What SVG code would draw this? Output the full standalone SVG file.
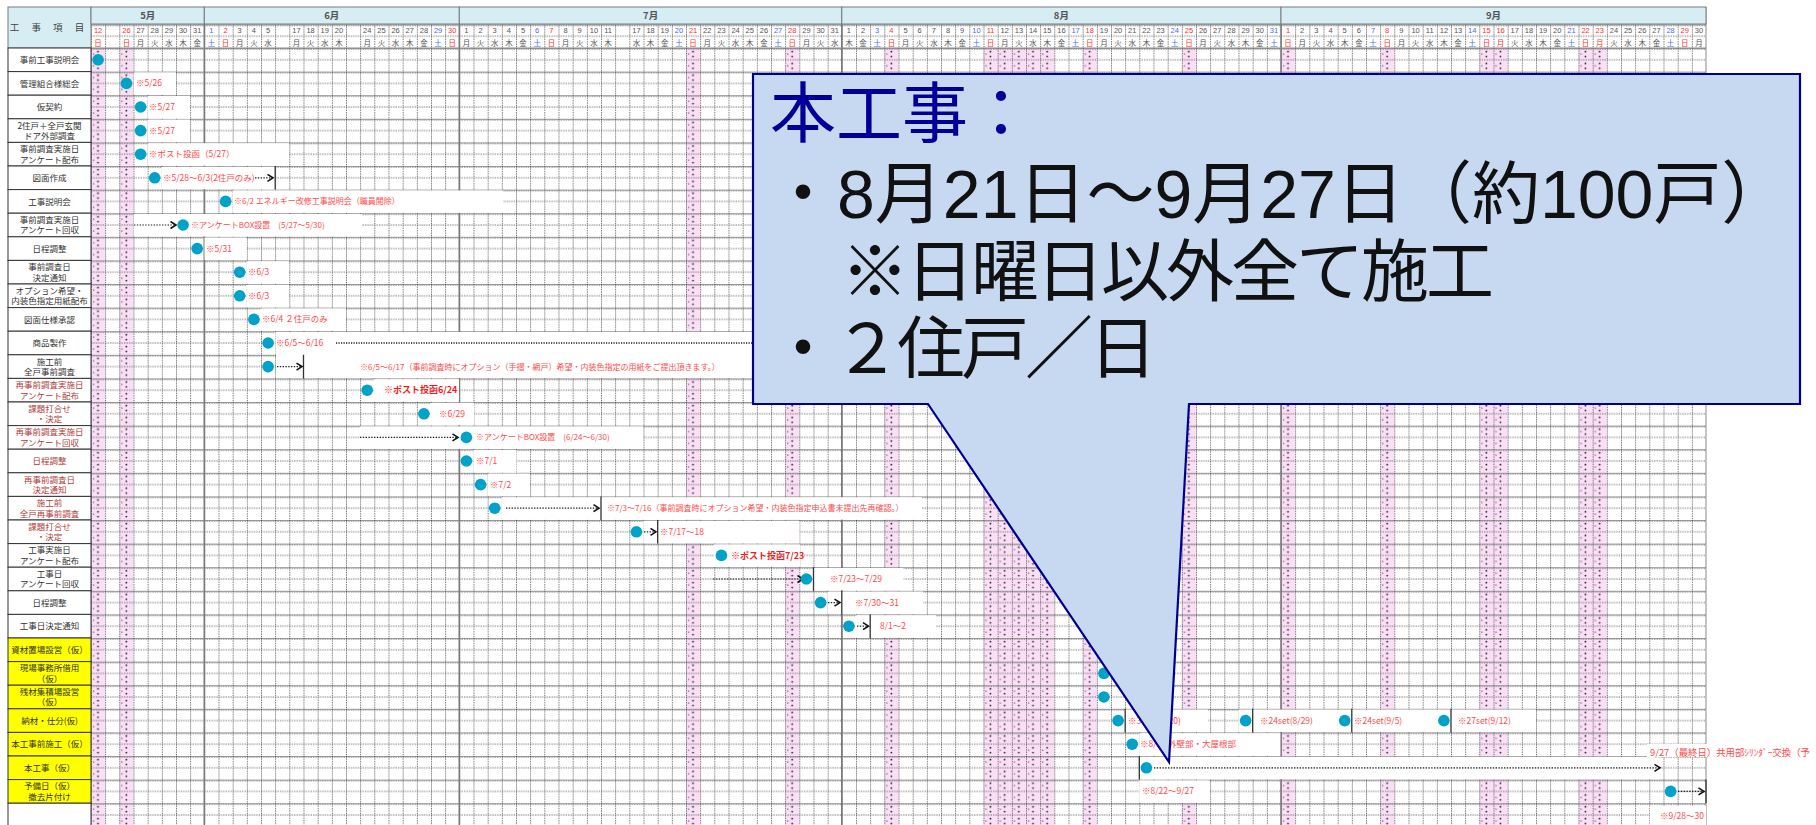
<svg xmlns="http://www.w3.org/2000/svg" width="1816" height="825" viewBox="0 0 1816 825">
<defs>
<style>
text{font-family:"Noto Sans CJK JP","Noto Sans",sans-serif}
.lbl{font-size:8.5px;fill:#333;text-anchor:middle}
.lr{fill:#b23a3a}
.ann{font-size:8.5px;fill:#ff4a4a}
.annb{font-size:9px;fill:#ee1c1c;font-weight:bold}
.dn{font-family:"Liberation Sans",Arial,sans-serif;font-size:7.5px;fill:#555;text-anchor:middle}
.wd{font-size:7.5px;fill:#555;text-anchor:middle}
.red{fill:#ff3030}
.blue{fill:#4a6ee8}
.dot{fill:#00a2c8}
.arr{stroke:#222;stroke-width:1.2;stroke-dasharray:1.4 1.4;fill:none;marker-end:url(#ah)}
.vl{stroke:#333;stroke-width:1.3}
.wb{fill:#fff}
.cell{fill:#fff;stroke:#333;stroke-width:1}
.ycell{fill:#ffff00;stroke:#333;stroke-width:1}
.mon{fill:#d6eef3;stroke:#7a7a7a;stroke-width:1}
.mt{font-size:9.5px;fill:#555;font-weight:bold;text-anchor:middle}
.pk{fill:url(#pk)}
.ml{stroke:#7a7a7a;stroke-width:1.6}
.co{font-family:"Liberation Sans","Noto Sans CJK JP",sans-serif;font-size:68px;fill:#111}
</style>
<pattern id="grid" patternUnits="userSpaceOnUse" x="91" y="48" width="14.1667" height="23.6">
<path d="M0 0.5H14.1667" stroke="#9a9a9a" stroke-width="1"/>
<path d="M0 1.3H14.1667" stroke="#555" stroke-width="0.7" stroke-dasharray="1.2 1.2"/>
<path d="M0 11.8H14.1667" stroke="#444" stroke-width="0.8" stroke-dasharray="1.2 1.2"/>
<path d="M0.5 0V23.6" stroke="#444" stroke-width="0.8" stroke-dasharray="1.3 1.1"/>
</pattern>
<pattern id="pk" patternUnits="userSpaceOnUse" x="91" y="48" width="14.1667" height="11.8">
<rect width="14.1667" height="11.8" fill="#fbdff6"/>
<circle cx="7" cy="3.6" r="0.9" fill="#222"/>
<circle cx="7" cy="8.4" r="0.9" fill="#222"/>
<circle cx="2.6" cy="6" r="0.7" fill="#444"/>
</pattern>
<marker id="ah" markerWidth="9" markerHeight="9" refX="7" refY="4.5" orient="auto" markerUnits="userSpaceOnUse">
<path d="M1.5 1L7 4.5L1.5 8" fill="none" stroke="#111" stroke-width="1.6"/>
</marker>
</defs>

<rect width="1816" height="825" fill="#fff"/>

<g id="pink-columns">
<rect class="pk" x="91" y="48" width="14.17" height="777"/>
<rect class="pk" x="119.3" y="48" width="14.17" height="777"/>
<rect class="pk" x="686" y="48" width="14.17" height="777"/>
<rect class="pk" x="785.2" y="48" width="14.17" height="777"/>
<rect class="pk" x="884.3" y="48" width="14.17" height="777"/>
<rect class="pk" x="983.5" y="48" width="70.83" height="777"/>
<rect class="pk" x="1082.7" y="48" width="14.17" height="777"/>
<rect class="pk" x="1181.8" y="48" width="14.17" height="777"/>
<rect class="pk" x="1281" y="48" width="14.17" height="777"/>
<rect class="pk" x="1380.2" y="48" width="14.17" height="777"/>
<rect class="pk" x="1479.3" y="48" width="28.33" height="777"/>
<rect class="pk" x="1578.5" y="48" width="28.33" height="777"/>
</g>

<g id="grid-lines">
<rect x="91" y="24.4" width="1615" height="801" fill="url(#grid)"/>
<path class="ml" d="M204.3 7V825M459.3 7V825M841.8 7V825M1281 7V825"/>
<path d="M1706 7V825" stroke="#888" stroke-width="1"/>
<path d="M91 24H1706M91 48H1706" stroke="#8a8a8a" stroke-width="1"/>
</g>

<g id="white-boxes">
<rect class="wb" x="134" y="72.4" width="42" height="22.4"/>
<rect class="wb" x="148" y="96" width="42" height="22.4"/>
<rect class="wb" x="148" y="119.6" width="42" height="22.4"/>
<rect class="wb" x="148" y="143.2" width="141" height="22.4"/>
<rect class="wb" x="162" y="166.8" width="113" height="22.4"/>
<rect class="wb" x="233" y="190.4" width="270" height="22.4"/>
<rect class="wb" x="134" y="214" width="228" height="22.4"/>
<rect class="wb" x="204.5" y="237.6" width="42" height="22.4"/>
<rect class="wb" x="247" y="261.2" width="42" height="22.4"/>
<rect class="wb" x="247" y="284.8" width="42" height="22.4"/>
<rect class="wb" x="261" y="308.4" width="85" height="22.4"/>
<rect class="wb" x="275.5" y="332" width="478" height="22.4"/>
<rect class="wb" x="276" y="354" width="477" height="24"/>
<rect class="wb" x="374" y="379.2" width="85" height="22.4"/>
<rect class="wb" x="431" y="402.8" width="43" height="22.4"/>
<rect class="wb" x="360" y="426.4" width="283" height="22.4"/>
<rect class="wb" x="473.5" y="450" width="43" height="22.4"/>
<rect class="wb" x="488" y="473.6" width="42" height="22.4"/>
<rect class="wb" x="502" y="497.2" width="420" height="22.4"/>
<rect class="wb" x="643.5" y="520.8" width="156" height="22.4"/>
<rect class="wb" x="714" y="544.4" width="86" height="22.4"/>
<rect class="wb" x="813.5" y="568" width="90" height="22.4"/>
<rect class="wb" x="828" y="591.6" width="95" height="22.4"/>
<rect class="wb" x="856" y="615.2" width="80" height="22.4"/>
<rect class="wb" x="1125.2" y="709.6" width="83" height="22.4"/>
<rect class="wb" x="1238.5" y="709.6" width="99" height="22.4"/>
<rect class="wb" x="1337.7" y="709.6" width="99" height="22.4"/>
<rect class="wb" x="1436.8" y="709.6" width="99" height="22.4"/>
<rect class="wb" x="1139.3" y="733.2" width="141" height="22.4"/>
<rect class="wb" x="1139.3" y="756.8" width="520" height="22.4"/>
<rect class="wb" x="1647" y="744" width="169" height="13"/>
<rect class="wb" x="1139.3" y="780.4" width="70" height="22.4"/>
<rect class="wb" x="1650" y="806" width="56" height="19"/>
</g>

<g id="header">
<rect class="mon" x="8" y="7" width="83" height="41"/>
<text x="49.5" y="31" style="font-size:9.5px;fill:#444;text-anchor:middle;letter-spacing:5px">工 事 項 目</text>
<rect class="mon" x="91" y="7" width="113.3" height="17"/>
<rect class="mon" x="204.3" y="7" width="255" height="17"/>
<rect class="mon" x="459.3" y="7" width="382.5" height="17"/>
<rect class="mon" x="841.8" y="7" width="439.2" height="17"/>
<rect class="mon" x="1281" y="7" width="425" height="17"/>
<text class="mt" x="147.7" y="19.3">5月</text>
<text class="mt" x="331.8" y="19.3">6月</text>
<text class="mt" x="650.6" y="19.3">7月</text>
<text class="mt" x="1061.4" y="19.3">8月</text>
<text class="mt" x="1493.5" y="19.3">9月</text>
<text class="dn" y="32.8"><tspan class="red" x="98.1">12</tspan><tspan class="red" x="126.4">26</tspan><tspan x="140.6">27</tspan><tspan x="154.7">28</tspan><tspan x="168.9">29</tspan><tspan x="183.1">30</tspan><tspan x="197.2">31</tspan><tspan class="blue" x="211.4">1</tspan><tspan class="red" x="225.6">2</tspan><tspan x="239.7">3</tspan><tspan x="253.9">4</tspan><tspan x="268.1">5</tspan><tspan x="296.4">17</tspan><tspan x="310.6">18</tspan><tspan x="324.7">19</tspan><tspan x="338.9">20</tspan><tspan x="367.2">24</tspan><tspan x="381.4">25</tspan><tspan x="395.6">26</tspan><tspan x="409.7">27</tspan><tspan x="423.9">28</tspan><tspan class="blue" x="438.1">29</tspan><tspan class="red" x="452.2">30</tspan><tspan x="466.4">1</tspan><tspan x="480.6">2</tspan><tspan x="494.7">3</tspan><tspan x="508.9">4</tspan><tspan x="523.1">5</tspan><tspan class="blue" x="537.2">6</tspan><tspan class="red" x="551.4">7</tspan><tspan x="565.6">8</tspan><tspan x="579.7">9</tspan><tspan x="593.9">10</tspan><tspan x="608.1">11</tspan><tspan x="636.4">17</tspan><tspan x="650.6">18</tspan><tspan x="664.7">19</tspan><tspan class="blue" x="678.9">20</tspan><tspan class="red" x="693.1">21</tspan><tspan x="707.2">22</tspan><tspan x="721.4">23</tspan><tspan x="735.6">24</tspan><tspan x="749.7">25</tspan><tspan x="763.9">26</tspan><tspan class="blue" x="778.1">27</tspan><tspan class="red" x="792.2">28</tspan><tspan x="806.4">29</tspan><tspan x="820.6">30</tspan><tspan x="834.7">31</tspan><tspan x="848.9">1</tspan><tspan x="863.1">2</tspan><tspan class="blue" x="877.2">3</tspan><tspan class="red" x="891.4">4</tspan><tspan x="905.6">5</tspan><tspan x="919.7">6</tspan><tspan x="933.9">7</tspan><tspan x="948.1">8</tspan><tspan x="962.2">9</tspan><tspan class="blue" x="976.4">10</tspan><tspan class="red" x="990.6">11</tspan><tspan x="1004.7">12</tspan><tspan x="1018.9">13</tspan><tspan x="1033.1">14</tspan><tspan x="1047.2">15</tspan><tspan x="1061.4">16</tspan><tspan class="blue" x="1075.6">17</tspan><tspan class="red" x="1089.7">18</tspan><tspan x="1103.9">19</tspan><tspan x="1118.1">20</tspan><tspan x="1132.2">21</tspan><tspan x="1146.4">22</tspan><tspan x="1160.6">23</tspan><tspan class="blue" x="1174.7">24</tspan><tspan class="red" x="1188.9">25</tspan><tspan x="1203.1">26</tspan><tspan x="1217.2">27</tspan><tspan x="1231.4">28</tspan><tspan x="1245.6">29</tspan><tspan x="1259.7">30</tspan><tspan class="blue" x="1273.9">31</tspan><tspan class="red" x="1288.1">1</tspan><tspan x="1302.2">2</tspan><tspan x="1316.4">3</tspan><tspan x="1330.6">4</tspan><tspan x="1344.7">5</tspan><tspan x="1358.9">6</tspan><tspan class="blue" x="1373.1">7</tspan><tspan class="red" x="1387.2">8</tspan><tspan x="1401.4">9</tspan><tspan x="1415.6">10</tspan><tspan x="1429.7">11</tspan><tspan x="1443.9">12</tspan><tspan x="1458.1">13</tspan><tspan class="blue" x="1472.2">14</tspan><tspan class="red" x="1486.4">15</tspan><tspan class="red" x="1500.6">16</tspan><tspan x="1514.7">17</tspan><tspan x="1528.9">18</tspan><tspan x="1543.1">19</tspan><tspan x="1557.2">20</tspan><tspan class="blue" x="1571.4">21</tspan><tspan class="red" x="1585.6">22</tspan><tspan class="red" x="1599.7">23</tspan><tspan x="1613.9">24</tspan><tspan x="1628.1">25</tspan><tspan x="1642.2">26</tspan><tspan x="1656.4">27</tspan><tspan class="blue" x="1670.6">28</tspan><tspan class="red" x="1684.7">29</tspan><tspan x="1698.9">30</tspan></text>
<text class="wd" y="45.6"><tspan class="red" x="98.1">日</tspan><tspan class="red" x="126.4">日</tspan><tspan x="140.6 154.7 168.9 183.1 197.2">月火水木金</tspan><tspan class="blue" x="211.4">土</tspan><tspan class="red" x="225.6">日</tspan><tspan x="239.7 253.9 268.1">月火水</tspan><tspan x="296.4 310.6 324.7 338.9">月火水木</tspan><tspan x="367.2 381.4 395.6 409.7 423.9">月火水木金</tspan><tspan class="blue" x="438.1">土</tspan><tspan class="red" x="452.2">日</tspan><tspan x="466.4 480.6 494.7 508.9 523.1">月火水木金</tspan><tspan class="blue" x="537.2">土</tspan><tspan class="red" x="551.4">日</tspan><tspan x="565.6 579.7 593.9 608.1">月火水木</tspan><tspan x="636.4 650.6 664.7">水木金</tspan><tspan class="blue" x="678.9">土</tspan><tspan class="red" x="693.1">日</tspan><tspan x="707.2 721.4 735.6 749.7 763.9">月火水木金</tspan><tspan class="blue" x="778.1">土</tspan><tspan class="red" x="792.2">日</tspan><tspan x="806.4 820.6 834.7 848.9 863.1">月火水木金</tspan><tspan class="blue" x="877.2">土</tspan><tspan class="red" x="891.4">日</tspan><tspan x="905.6 919.7 933.9 948.1 962.2">月火水木金</tspan><tspan class="blue" x="976.4">土</tspan><tspan class="red" x="990.6">日</tspan><tspan x="1004.7 1018.9 1033.1 1047.2 1061.4">月火水木金</tspan><tspan class="blue" x="1075.6">土</tspan><tspan class="red" x="1089.7">日</tspan><tspan x="1103.9 1118.1 1132.2 1146.4 1160.6">月火水木金</tspan><tspan class="blue" x="1174.7">土</tspan><tspan class="red" x="1188.9">日</tspan><tspan x="1203.1 1217.2 1231.4 1245.6 1259.7">月火水木金</tspan><tspan class="blue" x="1273.9">土</tspan><tspan class="red" x="1288.1">日</tspan><tspan x="1302.2 1316.4 1330.6 1344.7 1358.9">月火水木金</tspan><tspan class="blue" x="1373.1">土</tspan><tspan class="red" x="1387.2">日</tspan><tspan x="1401.4 1415.6 1429.7 1443.9 1458.1">月火水木金</tspan><tspan class="blue" x="1472.2">土</tspan><tspan class="red" x="1486.4">日</tspan><tspan class="red" x="1500.6">月</tspan><tspan x="1514.7 1528.9 1543.1 1557.2">火水木金</tspan><tspan class="blue" x="1571.4">土</tspan><tspan class="red" x="1585.6">日</tspan><tspan class="red" x="1599.7">月</tspan><tspan x="1613.9 1628.1 1642.2 1656.4">火水木金</tspan><tspan class="blue" x="1670.6">土</tspan><tspan class="red" x="1684.7">日</tspan><tspan x="1698.9">月</tspan></text>
</g>

<g id="connectors">
<path class="vl" d="M275.2 166V189.6M303.5 354.8V378.4M601 496.4V520M657.7 520V543.6M813.5 567.2V590.8M841.8 590.8V614.4M870.2 614.4V638M1125.2 708.8V732.4M1252.7 708.8V732.4M1351.8 708.8V732.4M1451 708.8V732.4M1139.3 756V779.6M1706 779.6V803.2"/>
<path class="arr" d="M255 177.8H273"/>
<path class="arr" d="M134 225H176"/>
<path d="M336 343H753" stroke="#555" stroke-width="2.2" stroke-dasharray="1.2 1.3" fill="none"/>
<path class="arr" d="M277 366.6H302"/>
<path class="arr" d="M360 437.4H458"/>
<path class="arr" d="M506 508.2H599"/>
<path class="arr" d="M644 531.8H656"/>
<path class="arr" d="M713 579H803"/>
<path class="arr" d="M828 602.6H840"/>
<path class="arr" d="M857 626.2H868.5"/>
<path class="arr" d="M1154 767.8H1660" style="stroke:#555;stroke-width:1.8"/>
<path class="arr" d="M1678 791.4H1704"/>
</g>

<g id="row-0"><rect class="cell" x="8" y="48" width="83" height="23.6"/><text class="lbl" x="49.5" y="63">事前工事説明会</text><circle class="dot" cx="98.1" cy="59.8" r="5.8"/></g>
<g id="row-1"><rect class="cell" x="8" y="71.6" width="83" height="23.6"/><text class="lbl" x="49.5" y="86.6">管理組合様総会</text><circle class="dot" cx="126.4" cy="83.4" r="5.8"/><text class="ann" x="136" y="86.4">※5/26</text></g>
<g id="row-2"><rect class="cell" x="8" y="95.2" width="83" height="23.6"/><text class="lbl" x="49.5" y="110.2">仮契約</text><circle class="dot" cx="140.6" cy="107" r="5.8"/><text class="ann" x="149" y="110">※5/27</text></g>
<g id="row-3"><rect class="cell" x="8" y="118.8" width="83" height="23.6"/><text class="lbl"><tspan x="49.5" y="128.6">2住戸＋全戸玄関</tspan><tspan x="49.5" y="139">ドア外部調査</tspan></text><circle class="dot" cx="140.6" cy="130.6" r="5.8"/><text class="ann" x="149" y="133.6">※5/27</text></g>
<g id="row-4"><rect class="cell" x="8" y="142.4" width="83" height="23.6"/><text class="lbl"><tspan x="49.5" y="152.2">事前調査実施日</tspan><tspan x="49.5" y="162.6">アンケート配布</tspan></text><circle class="dot" cx="140.6" cy="154.2" r="5.8"/><text class="ann" x="149" y="157.2">※ポスト投函（5/27）</text></g>
<g id="row-5"><rect class="cell" x="8" y="166" width="83" height="23.6"/><text class="lbl" x="49.5" y="181">図面作成</text><circle class="dot" cx="154.7" cy="177.8" r="5.8"/><text class="ann" x="163" y="180.8">※5/28～6/3(2住戸のみ)</text></g>
<g id="row-6"><rect class="cell" x="8" y="189.6" width="83" height="23.6"/><text class="lbl" x="49.5" y="204.6">工事説明会</text><circle class="dot" cx="225.6" cy="201.4" r="5.8"/><text class="ann" x="234" y="204.4" style="font-size:8px">※6/2 エネルギー改修工事説明会（職員閲除）</text></g>
<g id="row-7"><rect class="cell" x="8" y="213.2" width="83" height="23.6"/><text class="lbl"><tspan x="49.5" y="223">事前調査実施日</tspan><tspan x="49.5" y="233.4">アンケート回収</tspan></text><circle class="dot" cx="183.1" cy="225" r="5.8"/><text class="ann" x="191" y="228" style="font-size:8px">※アンケートBOX設置　(5/27～5/30)</text></g>
<g id="row-8"><rect class="cell" x="8" y="236.8" width="83" height="23.6"/><text class="lbl" x="49.5" y="251.8">日程調整</text><circle class="dot" cx="197.2" cy="248.6" r="5.8"/><text class="ann" x="206" y="251.6">※5/31</text></g>
<g id="row-9"><rect class="cell" x="8" y="260.4" width="83" height="23.6"/><text class="lbl"><tspan x="49.5" y="270.2">事前調査日</tspan><tspan x="49.5" y="280.6">決定通知</tspan></text><circle class="dot" cx="239.7" cy="272.2" r="5.8"/><text class="ann" x="248" y="275.2">※6/3</text></g>
<g id="row-10"><rect class="cell" x="8" y="284" width="83" height="23.6"/><text class="lbl"><tspan x="49.5" y="293.8">オプション希望・</tspan><tspan x="49.5" y="304.2">内装色指定用紙配布</tspan></text><circle class="dot" cx="239.7" cy="295.8" r="5.8"/><text class="ann" x="248" y="298.8">※6/3</text></g>
<g id="row-11"><rect class="cell" x="8" y="307.6" width="83" height="23.6"/><text class="lbl" x="49.5" y="322.6">図面仕様承認</text><circle class="dot" cx="253.9" cy="319.4" r="5.8"/><text class="ann" x="262" y="322.4">※6/4 ２住戸のみ</text></g>
<g id="row-12"><rect class="cell" x="8" y="331.2" width="83" height="23.6"/><text class="lbl" x="49.5" y="346.2">商品製作</text><circle class="dot" cx="268.1" cy="343" r="5.8"/><text class="ann" x="276" y="346">※6/5～6/16</text></g>
<g id="row-13"><rect class="cell" x="8" y="354.8" width="83" height="23.6"/><text class="lbl"><tspan x="49.5" y="364.6">施工前</tspan><tspan x="49.5" y="375">全戸事前調査</tspan></text><circle class="dot" cx="268.1" cy="366.6" r="5.8"/><text class="ann" x="360" y="369.6" style="font-size:8px">※6/5～6/17（事前調査時にオプション（手摺・網戸）希望・内装色指定の用紙をご提出頂きます。）</text></g>
<g id="row-14"><rect class="cell" x="8" y="378.4" width="83" height="23.6"/><text class="lbl lr"><tspan x="49.5" y="388.2">再事前調査実施日</tspan><tspan x="49.5" y="398.6">アンケート配布</tspan></text><circle class="dot" cx="367.2" cy="390.2" r="5.8"/><text class="annb" x="384" y="393.4">※ポスト投函6/24</text></g>
<g id="row-15"><rect class="cell" x="8" y="402" width="83" height="23.6"/><text class="lbl lr"><tspan x="49.5" y="411.8">課題打合せ</tspan><tspan x="49.5" y="422.2">・決定</tspan></text><circle class="dot" cx="423.9" cy="413.8" r="5.8"/><text class="ann" x="439" y="416.8">※6/29</text></g>
<g id="row-16"><rect class="cell" x="8" y="425.6" width="83" height="23.6"/><text class="lbl lr"><tspan x="49.5" y="435.4">再事前調査実施日</tspan><tspan x="49.5" y="445.8">アンケート回収</tspan></text><circle class="dot" cx="466.4" cy="437.4" r="5.8"/><text class="ann" x="476" y="440.4" style="font-size:8px">※アンケートBOX設置　(6/24～6/30)</text></g>
<g id="row-17"><rect class="cell" x="8" y="449.2" width="83" height="23.6"/><text class="lbl lr" x="49.5" y="464.2">日程調整</text><circle class="dot" cx="466.4" cy="461" r="5.8"/><text class="ann" x="476" y="464">※7/1</text></g>
<g id="row-18"><rect class="cell" x="8" y="472.8" width="83" height="23.6"/><text class="lbl lr"><tspan x="49.5" y="482.6">再事前調査日</tspan><tspan x="49.5" y="493">決定通知</tspan></text><circle class="dot" cx="480.6" cy="484.6" r="5.8"/><text class="ann" x="490" y="487.6">※7/2</text></g>
<g id="row-19"><rect class="cell" x="8" y="496.4" width="83" height="23.6"/><text class="lbl lr"><tspan x="49.5" y="506.2">施工前</tspan><tspan x="49.5" y="516.6">全戸再事前調査</tspan></text><circle class="dot" cx="494.7" cy="508.2" r="5.8"/><text class="ann" x="607" y="511.2" style="font-size:8px">※7/3～7/16（事前調査時にオプション希望・内装色指定申込書未提出先再確認。）</text></g>
<g id="row-20"><rect class="cell" x="8" y="520" width="83" height="23.6"/><text class="lbl lr"><tspan x="49.5" y="529.8">課題打合せ</tspan><tspan x="49.5" y="540.2">・決定</tspan></text><circle class="dot" cx="636.4" cy="531.8" r="5.8"/><text class="ann" x="660" y="534.8">※7/17～18</text></g>
<g id="row-21"><rect class="cell" x="8" y="543.6" width="83" height="23.6"/><text class="lbl"><tspan x="49.5" y="553.4">工事実施日</tspan><tspan x="49.5" y="563.8">アンケート配布</tspan></text><circle class="dot" cx="721.4" cy="555.4" r="5.8"/><text class="annb" x="731" y="558.6">※ポスト投函7/23</text></g>
<g id="row-22"><rect class="cell" x="8" y="567.2" width="83" height="23.6"/><text class="lbl"><tspan x="49.5" y="577">工事日</tspan><tspan x="49.5" y="587.4">アンケート回収</tspan></text><circle class="dot" cx="806.4" cy="579" r="5.8"/><text class="ann" x="830" y="582">※7/23～7/29</text></g>
<g id="row-23"><rect class="cell" x="8" y="590.8" width="83" height="23.6"/><text class="lbl" x="49.5" y="605.8">日程調整</text><circle class="dot" cx="820.6" cy="602.6" r="5.8"/><text class="ann" x="855" y="605.6">※7/30～31</text></g>
<g id="row-24"><rect class="cell" x="8" y="614.4" width="83" height="23.6"/><text class="lbl" x="49.5" y="629.4">工事日決定通知</text><circle class="dot" cx="848.9" cy="626.2" r="5.8"/><text class="ann" x="880" y="629.2">8/1～2</text></g>
<g id="row-25"><rect class="ycell" x="8" y="638" width="83" height="23.6"/><text class="lbl" x="49.5" y="653">資材置場設営（仮）</text></g>
<g id="row-26"><rect class="ycell" x="8" y="661.6" width="83" height="23.6"/><text class="lbl"><tspan x="49.5" y="671.4">現場事務所借用</tspan><tspan x="49.5" y="681.8">（仮）</tspan></text><circle class="dot" cx="1103.9" cy="673.4" r="5.8"/></g>
<g id="row-27"><rect class="ycell" x="8" y="685.2" width="83" height="23.6"/><text class="lbl"><tspan x="49.5" y="695">残材集積場設営</tspan><tspan x="49.5" y="705.4">（仮）</tspan></text><circle class="dot" cx="1103.9" cy="697" r="5.8"/></g>
<g id="row-28"><rect class="ycell" x="8" y="708.8" width="83" height="23.6"/><text class="lbl" x="49.5" y="723.8">納材・仕分(仮)</text><circle class="dot" cx="1118.1" cy="720.6" r="5.8"/><text class="ann" x="1128" y="723.6">※30set(8/20)</text><circle class="dot" cx="1245.6" cy="720.6" r="5.8"/><text class="ann" x="1260" y="723.6">※24set(8/29)</text><circle class="dot" cx="1344.7" cy="720.6" r="5.8"/><text class="ann" x="1354" y="723.6">※24set(9/5)</text><circle class="dot" cx="1443.9" cy="720.6" r="5.8"/><text class="ann" x="1458" y="723.6">※27set(9/12)</text></g>
<g id="row-29"><rect class="ycell" x="8" y="732.4" width="83" height="23.6"/><text class="lbl" x="49.5" y="747.4">本工事前施工（仮）</text><circle class="dot" cx="1132.2" cy="744.2" r="5.8"/><text class="ann" x="1140" y="747.2">※8/21 外壁部・大屋根部</text></g>
<g id="row-30"><rect class="ycell" x="8" y="756" width="83" height="23.6"/><text class="lbl" x="49.5" y="771">本工事（仮）</text><circle class="dot" cx="1146.4" cy="767.8" r="5.8"/><text class="ann" x="1142" y="794.4">※8/22～9/27</text><text class="ann" x="1650" y="755.5" style="font-size:9.4px">9/27（最終日）共用部ｼﾘﾝﾀﾞｰ交換（予</text></g>
<g id="row-31"><rect class="ycell" x="8" y="779.6" width="83" height="23.6"/><text class="lbl"><tspan x="49.5" y="789.4">予備日（仮）</tspan><tspan x="49.5" y="799.8">撤去片付け</tspan></text><circle class="dot" cx="1670.6" cy="791.4" r="5.8"/><text class="ann" x="1660" y="818.5">※9/28～30</text></g>
<g id="row-32"><rect class="cell" x="8" y="803.2" width="83" height="30"/></g>

<g id="callout">
<path d="M753 74H1800V404H1189L1169 762L928 404H753Z" fill="#c6d9f1" stroke="#000090" stroke-width="2.2" stroke-linejoin="miter"/>
<text class="co"><tspan x="770" y="137" style="font-size:66px;fill:#000099">本工事：</tspan><tspan x="769" y="218">・8月21日～9月27日（約100戸）</tspan><tspan x="841" y="296" style="letter-spacing:-3px">※日曜日以外全て施工</tspan><tspan x="769" y="373" style="letter-spacing:-4px">・２住戸／日</tspan></text>
</g>
</svg>
